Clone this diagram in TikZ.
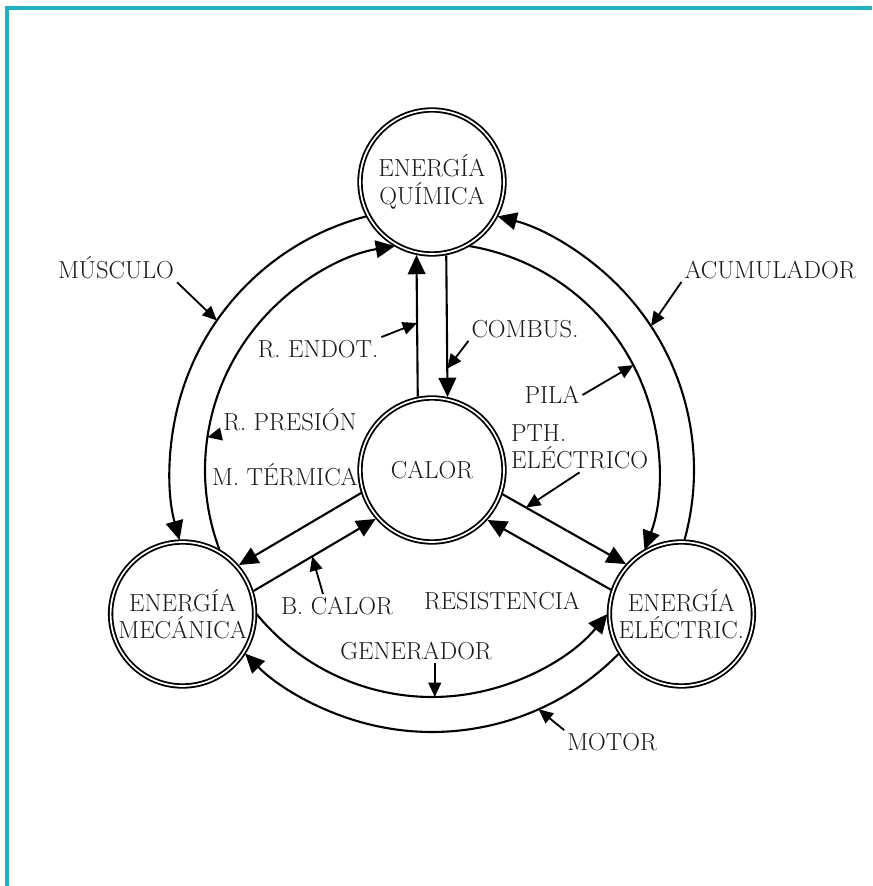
\documentclass[tikz,border=0pt]{standalone}
\usetikzlibrary{arrows.meta,calc}
\definecolor{cian}{RGB}{32,178,190}
\newcommand\etiq{\fontsize{17.5}{19.5}\selectfont}
\tikzset{
  energia/.style={circle, draw, double, line width=1.3pt, double distance=1.2pt,
    minimum size=3.6cm, inner sep=0pt, outer sep=1.9pt, align=center,
    font=\etiq, text=black!90},
  flujo/.style={line width=1.5pt, -{Triangle[length=0.48cm,width=0.44cm]}},
  senal/.style={line width=1.3pt, -{Triangle[length=0.36cm,width=0.32cm]}},
  rotulo/.style={font=\etiq, text=black!90, inner sep=2pt},
  marco/.style={draw=cian, line width=2.2pt}
}
\begin{document}
\begin{tikzpicture}
    \useasboundingbox (0,0) rectangle (21.8,22.15);
    % marco
    \draw[marco] (0.175,0) -- (0.175,21.95) -- (21.8,21.95);
    % formas de energia
    \node[energia] (C) at (10.8,10.4) {CALOR};
    \node[energia] (Q) at (10.8,17.6) {ENERGÍA\\QUÍMICA};
    \node[energia] (M) at (4.565,6.8) {ENERGÍA\\MECÁNICA};
    \node[energia] (E) at (17.035,6.8) {ENERGÍA\\ELÉCTRIC.};
    % arcos exteriores
    \draw[flujo] ([shift={(C)}]344.5:6.55) arc[start angle=344.5, end angle=435.5, radius=6.55];
    \draw[flujo] ([shift={(C)}]104.5:6.55) arc[start angle=104.5, end angle=195.5, radius=6.55];
    \draw[flujo] ([shift={(C)}]315.5:6.55) arc[start angle=315.5, end angle=224.5, radius=6.55];
    % arcos interiores
    \draw[flujo] ([shift={(C)}]80.6:5.675) arc[start angle=80.6, end angle=-20.6, radius=5.675];
    \draw[flujo] ([shift={(C)}]200.6:5.675) arc[start angle=200.6, end angle=99.4, radius=5.675];
    \draw[flujo] ([shift={(C)}]219.4:5.675) arc[start angle=219.4, end angle=320.6, radius=5.675];
    % calor con las otras
    \draw[flujo] (C.101.5) -- (Q.258.5);
    \draw[flujo] (Q.281.5) -- (C.78.5);
    \draw[flujo] (C.198.5) -- (M.41.5);
    \draw[flujo] (M.18.5) -- (C.221.5);
    \draw[flujo] (C.341.5) -- (E.138.5);
    \draw[flujo] (E.161.5) -- (C.318.5);
    % puntos senalados
    \coordinate (tmusc) at ([shift={(C)}]145.2:6.55);
    \coordinate (tacum) at ([shift={(C)}]33.3:6.55);
    \coordinate (tmotor) at ([shift={(C)}]294:6.55);
    \coordinate (tpila) at ([shift={(C)}]27.5:5.675);
    \coordinate (tpres) at ([shift={(C)}]171.7:5.675);
    \coordinate (tgen) at ([shift={(C)}]270.7:5.675);
    \coordinate (tendo) at ($(C.101.5)!0.52!(Q.258.5)$);
    \coordinate (tcomb) at ($(Q.281.5)!0.8!(C.78.5)$);
    \coordinate (tpth) at ($(C.341.5)!0.19!(E.138.5)$);
    \coordinate (tbcal) at ($(M.18.5)!0.48!(C.221.5)$);
    % rotulos
    \node[rotulo] (musc) at (2.9,15.45) {MÚSCULO};
    \node[rotulo] (acum) at (19.25,15.4) {ACUMULADOR};
    \node[rotulo] (endo) at (7.95,13.425) {R. ENDOT.};
    \node[rotulo] (comb) at (13.125,13.925) {COMBUS.};
    \node[rotulo] (pila) at (13.8,12.275) {PILA};
    \node[rotulo] (pres) at (7.25,11.65) {R. PRESIÓN};
    \node[rotulo, align=left, anchor=west] (pth) at (12.7,10.975) {PTH.\\ELÉCTRICO};
    \node[rotulo] (mter) at (7.125,10.275) {M. TÉRMICA};
    \node[rotulo] (bcal) at (8.425,7.0) {B. CALOR};
    \node[rotulo] (resi) at (12.55,7.125) {RESISTENCIA};
    \node[rotulo] (gen) at (10.4,5.875) {GENERADOR};
    \node[rotulo] (motor) at (15.3,3.6) {MOTOR};
    % flechas de los rotulos
    \draw[senal] (musc.south east) -- (tmusc);
    \draw[senal] (acum.south west) -- (tacum);
    \draw[senal] (endo.north east) -- (tendo);
    \draw[senal] (comb.south west) -- (tcomb);
    \draw[senal] (pila.east) -- (tpila);
    \draw[senal] (pres.south west) -- (tpres);
    \draw[senal] (pth.south) -- (tpth);
    \draw[senal] ([xshift=-0.35cm]bcal.north) -- (tbcal);
    \draw[senal] (gen.south -| tgen) -- (tgen);
    \draw[senal] (motor.north west) -- (tmotor);
\end{tikzpicture}
\end{document}
